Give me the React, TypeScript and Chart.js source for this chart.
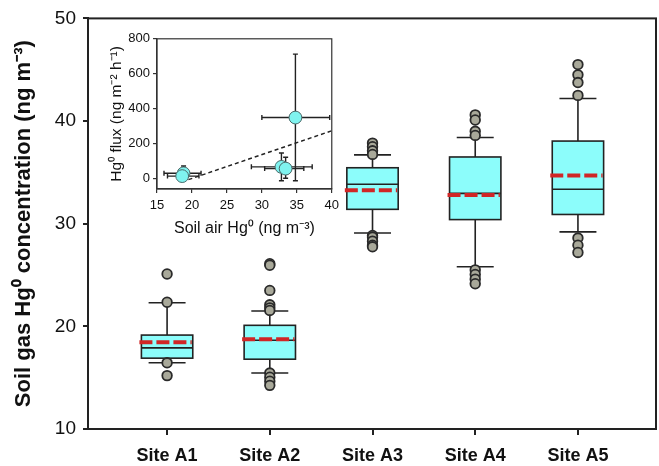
import React, { useEffect, useRef } from "react";
import { Chart, registerables } from "chart.js";
Chart.register(...registerables);

// ---------- main box plot data ----------
const sites = ["Site A1", "Site A2", "Site A3", "Site A4", "Site A5"];
const q1 = [16.9, 16.8, 31.4, 30.4, 30.9];
const median = [17.9, 18.65, 33.85, 32.95, 33.35];
const q3 = [19.15, 20.1, 35.45, 36.5, 38.05];
const means = [18.45, 18.75, 33.25, 32.8, 34.7];
const whiskerLow = [16.45, 15.45, 29.1, 25.8, 29.2];
const whiskerHigh = [22.3, 21.5, 36.7, 38.4, 42.2];
const outliersA1 = [25.1, 22.35, 16.45, 15.2];
const outliersA2 = [26.1, 25.95, 23.5, 22.1, 21.8, 21.55, 15.45, 15.05, 14.65, 14.25];
const outliersA3 = [37.85, 37.5, 37.1, 36.75, 28.85, 28.7, 28.3, 27.9, 27.75];
const outliersA4 = [40.6, 40.1, 39.0, 38.6, 25.5, 25.05, 24.6, 24.15];
const outliersA5 = [45.5, 44.5, 43.75, 42.5, 28.6, 27.9, 27.2];
const outliers = [outliersA1, outliersA2, outliersA3, outliersA4, outliersA5];
const yTicks = [10, 20, 30, 40, 50];

// ---------- inset data ----------
const fluxX = [18.8, 18.6, 32.8, 33.4, 34.8];
const fluxY = [28, 12, 65, 55, 348];
const fluxXLow = [16.0, 16.5, 28.5, 30.4, 30.0];
const fluxXHigh = [21.3, 21.0, 37.2, 36.0, 39.7];
const fluxYLow = [-5, 0, -15, 0, -15];
const fluxYHigh = [70, 40, 145, 120, 712];
const fitX = [19.5, 40];
const fitY = [-8, 272];
const insetXTicks = [15, 20, 25, 30, 35, 40];
const insetYTicks = [0, 200, 400, 600, 800];

const FONT = "'Liberation Sans', Arial, sans-serif";
const BOX_W = 0.5;
const CAP_W = 0.36;

const boxPlugin = {
  id: "boxes",
  beforeDatasetsDraw(chart: any) {
    const { ctx } = chart;
    const x = chart.scales.x;
    const y = chart.scales.y;
    ctx.save();
    sites.forEach((_, i) => {
      const c = i + 1;
      const cx = x.getPixelForValue(c);
      const bl = x.getPixelForValue(c - BOX_W / 2);
      const br = x.getPixelForValue(c + BOX_W / 2);
      const cl = x.getPixelForValue(c - CAP_W / 2);
      const cr = x.getPixelForValue(c + CAP_W / 2);
      const yq1 = y.getPixelForValue(q1[i]);
      const yq3 = y.getPixelForValue(q3[i]);
      const ywl = y.getPixelForValue(whiskerLow[i]);
      const ywh = y.getPixelForValue(whiskerHigh[i]);
      const ymed = y.getPixelForValue(median[i]);
      const ymean = y.getPixelForValue(means[i]);
      ctx.strokeStyle = "#222";
      ctx.lineWidth = 1.6;
      ctx.setLineDash([]);
      ctx.beginPath();
      ctx.moveTo(cx, yq3);
      ctx.lineTo(cx, ywh);
      ctx.moveTo(cl, ywh);
      ctx.lineTo(cr, ywh);
      ctx.moveTo(cx, yq1);
      ctx.lineTo(cx, ywl);
      ctx.moveTo(cl, ywl);
      ctx.lineTo(cr, ywl);
      ctx.stroke();
      ctx.fillStyle = "#8cfdfb";
      ctx.fillRect(bl, yq3, br - bl, yq1 - yq3);
      ctx.strokeRect(bl, yq3, br - bl, yq1 - yq3);
      ctx.beginPath();
      ctx.moveTo(bl, ymed);
      ctx.lineTo(br, ymed);
      ctx.stroke();
      ctx.strokeStyle = "#d02626";
      ctx.lineWidth = 4;
      ctx.setLineDash([13, 4]);
      ctx.beginPath();
      ctx.moveTo(bl - 2, ymean);
      ctx.lineTo(br - 1, ymean);
      ctx.stroke();
      ctx.setLineDash([]);
    });
    ctx.restore();
  },
  afterDraw(chart: any) {
    const { ctx, chartArea } = chart;
    ctx.save();
    ctx.strokeStyle = "#222";
    ctx.lineWidth = 2;
    ctx.strokeRect(chartArea.left, chartArea.top, chartArea.right - chartArea.left, chartArea.bottom - chartArea.top);
    ctx.restore();
  },
};

const errPlugin = {
  id: "errbars",
  beforeDatasetsDraw(chart: any) {
    const { ctx } = chart;
    const x = chart.scales.x;
    const y = chart.scales.y;
    ctx.save();
    ctx.strokeStyle = "#222";
    ctx.lineWidth = 1.4;
    const cap = 2.5;
    fluxX.forEach((vx, i) => {
      const px = x.getPixelForValue(vx);
      const py = y.getPixelForValue(fluxY[i]);
      const xl = x.getPixelForValue(fluxXLow[i]);
      const xh = x.getPixelForValue(fluxXHigh[i]);
      const yl = y.getPixelForValue(fluxYLow[i]);
      const yh = y.getPixelForValue(fluxYHigh[i]);
      ctx.beginPath();
      ctx.moveTo(xl, py);
      ctx.lineTo(xh, py);
      ctx.moveTo(xl, py - cap);
      ctx.lineTo(xl, py + cap);
      ctx.moveTo(xh, py - cap);
      ctx.lineTo(xh, py + cap);
      ctx.moveTo(px, yl);
      ctx.lineTo(px, yh);
      ctx.moveTo(px - cap, yl);
      ctx.lineTo(px + cap, yl);
      ctx.moveTo(px - cap, yh);
      ctx.lineTo(px + cap, yh);
      ctx.stroke();
    });
    ctx.restore();
  },
  afterDraw(chart: any) {
    const { ctx, chartArea } = chart;
    ctx.save();
    ctx.strokeStyle = "#333";
    ctx.lineWidth = 1.2;
    ctx.strokeRect(chartArea.left, chartArea.top, chartArea.right - chartArea.left, chartArea.bottom - chartArea.top);
    ctx.restore();
  },
};

function MainChart() {
  const ref = useRef<HTMLCanvasElement>(null);
  useEffect(() => {
    const pts: { x: number; y: number }[] = [];
    outliers.forEach((arr, i) => arr.forEach((v) => pts.push({ x: i + 1, y: v })));
    const chart = new Chart(ref.current!, {
      type: "scatter",
      data: {
        datasets: [
          {
            data: pts,
            pointRadius: 4.8,
            pointBackgroundColor: "#a9a99a",
            pointBorderColor: "#2a2a2a",
            pointBorderWidth: 1.8,
          },
        ],
      },
      plugins: [boxPlugin],
      options: {
        animation: false,
        responsive: false,
        maintainAspectRatio: false,
        layout: { autoPadding: false, padding: { top: 14, right: 3, left: 0, bottom: 0 } },
        plugins: { legend: { display: false }, tooltip: { enabled: false } },
        scales: {
          x: {
            type: "linear",
            min: 0.23,
            max: 5.76,
            afterBuildTicks: (s: any) => {
              s.ticks = sites.map((_, i) => ({ value: i + 1 }));
            },
            afterFit: (s: any) => {
              s.height = 37;
            },
            ticks: {
              callback: (v: any) => sites[Math.round(Number(v)) - 1],
              font: { family: FONT, size: 18, weight: "bold" },
              color: "#111",
              padding: 10,
              maxRotation: 0,
              autoSkip: false,
            },
            grid: { display: true, drawOnChartArea: false, drawTicks: true, tickLength: 6, color: "#222", lineWidth: 2 },
            border: { display: true, color: "#222", width: 2 },
          },
          y: {
            type: "linear",
            min: 10,
            max: 50,
            afterBuildTicks: (s: any) => {
              s.ticks = yTicks.map((v) => ({ value: v }));
            },
            afterFit: (s: any) => {
              s.width = 88;
            },
            ticks: { font: { family: FONT, size: 19 }, color: "#111", padding: 7 },
            grid: { display: true, drawOnChartArea: false, drawTicks: true, tickLength: 5, color: "#222", lineWidth: 2 },
            border: { display: true, color: "#222", width: 2 },
            title: {
              display: true,
              text: "Soil gas Hg⁰ concentration (ng m⁻³)",
              font: { family: FONT, size: 22, weight: "bold" },
              color: "#111",
              padding: { top: 11, bottom: 0 },
            },
          },
        },
      },
    } as any);
    return () => chart.destroy();
  }, []);
  return <canvas ref={ref} width={659} height={466} style={{ position: "absolute", left: 0, top: 0, width: 659, height: 466 }} />;
}

function InsetChart() {
  const ref = useRef<HTMLCanvasElement>(null);
  useEffect(() => {
    const chart = new Chart(ref.current!, {
      type: "scatter",
      data: {
        datasets: [
          {
            type: "scatter",
            data: fluxX.map((x, i) => ({ x, y: fluxY[i] })),
            pointRadius: 6.4,
            pointBackgroundColor: "#7ff3ef",
            pointBorderColor: "#4a6a6a",
            pointBorderWidth: 1,
            order: 0,
          },
          {
            type: "line",
            data: fitX.map((x, i) => ({ x, y: fitY[i] })),
            borderColor: "#222",
            borderWidth: 1.4,
            borderDash: [4, 3],
            pointRadius: 0,
            fill: false,
            order: 1,
          },
        ],
      },
      plugins: [errPlugin],
      options: {
        animation: false,
        responsive: false,
        maintainAspectRatio: false,
        layout: { autoPadding: false, padding: { top: 9, right: 9, left: 0, bottom: 0 } },
        plugins: { legend: { display: false }, tooltip: { enabled: false } },
        scales: {
          x: {
            type: "linear",
            min: 15,
            max: 40,
            afterBuildTicks: (s: any) => {
              s.ticks = insetXTicks.map((v) => ({ value: v }));
            },
            afterFit: (s: any) => {
              s.height = 49;
            },
            ticks: { font: { family: FONT, size: 13 }, color: "#111", padding: 5, maxRotation: 0, autoSkip: false },
            grid: { display: true, drawOnChartArea: false, drawTicks: true, tickLength: 4, color: "#333", lineWidth: 1.2 },
            border: { display: true, color: "#333", width: 1.2 },
            title: {
              display: true,
              text: "Soil air Hg⁰ (ng m⁻³)",
              font: { family: FONT, size: 16 },
              color: "#111",
              padding: { top: 4, bottom: 0 },
            },
          },
          y: {
            type: "linear",
            min: -62,
            max: 800,
            afterBuildTicks: (s: any) => {
              s.ticks = insetYTicks.map((v) => ({ value: v }));
            },
            afterFit: (s: any) => {
              s.width = 62;
            },
            ticks: { font: { family: FONT, size: 13 }, color: "#111", padding: 3 },
            grid: { display: true, drawOnChartArea: false, drawTicks: true, tickLength: 4, color: "#333", lineWidth: 1.2 },
            border: { display: true, color: "#333", width: 1.2 },
            title: {
              display: true,
              text: "Hg⁰ flux (ng m⁻² h⁻¹)",
              font: { family: FONT, size: 15.5 },
              color: "#111",
              padding: { top: 12, bottom: 0 },
            },
          },
        },
      },
    } as any);
    return () => chart.destroy();
  }, []);
  return <canvas ref={ref} width={249} height={210} style={{ position: "absolute", left: 95, top: 28, width: 249, height: 210 }} />;
}

export default function App() {
  return (
    <div style={{ position: "fixed", left: 0, top: 0, width: 659, height: 466, background: "#fff" }}>
      <MainChart />
      <InsetChart />
    </div>
  );
}
